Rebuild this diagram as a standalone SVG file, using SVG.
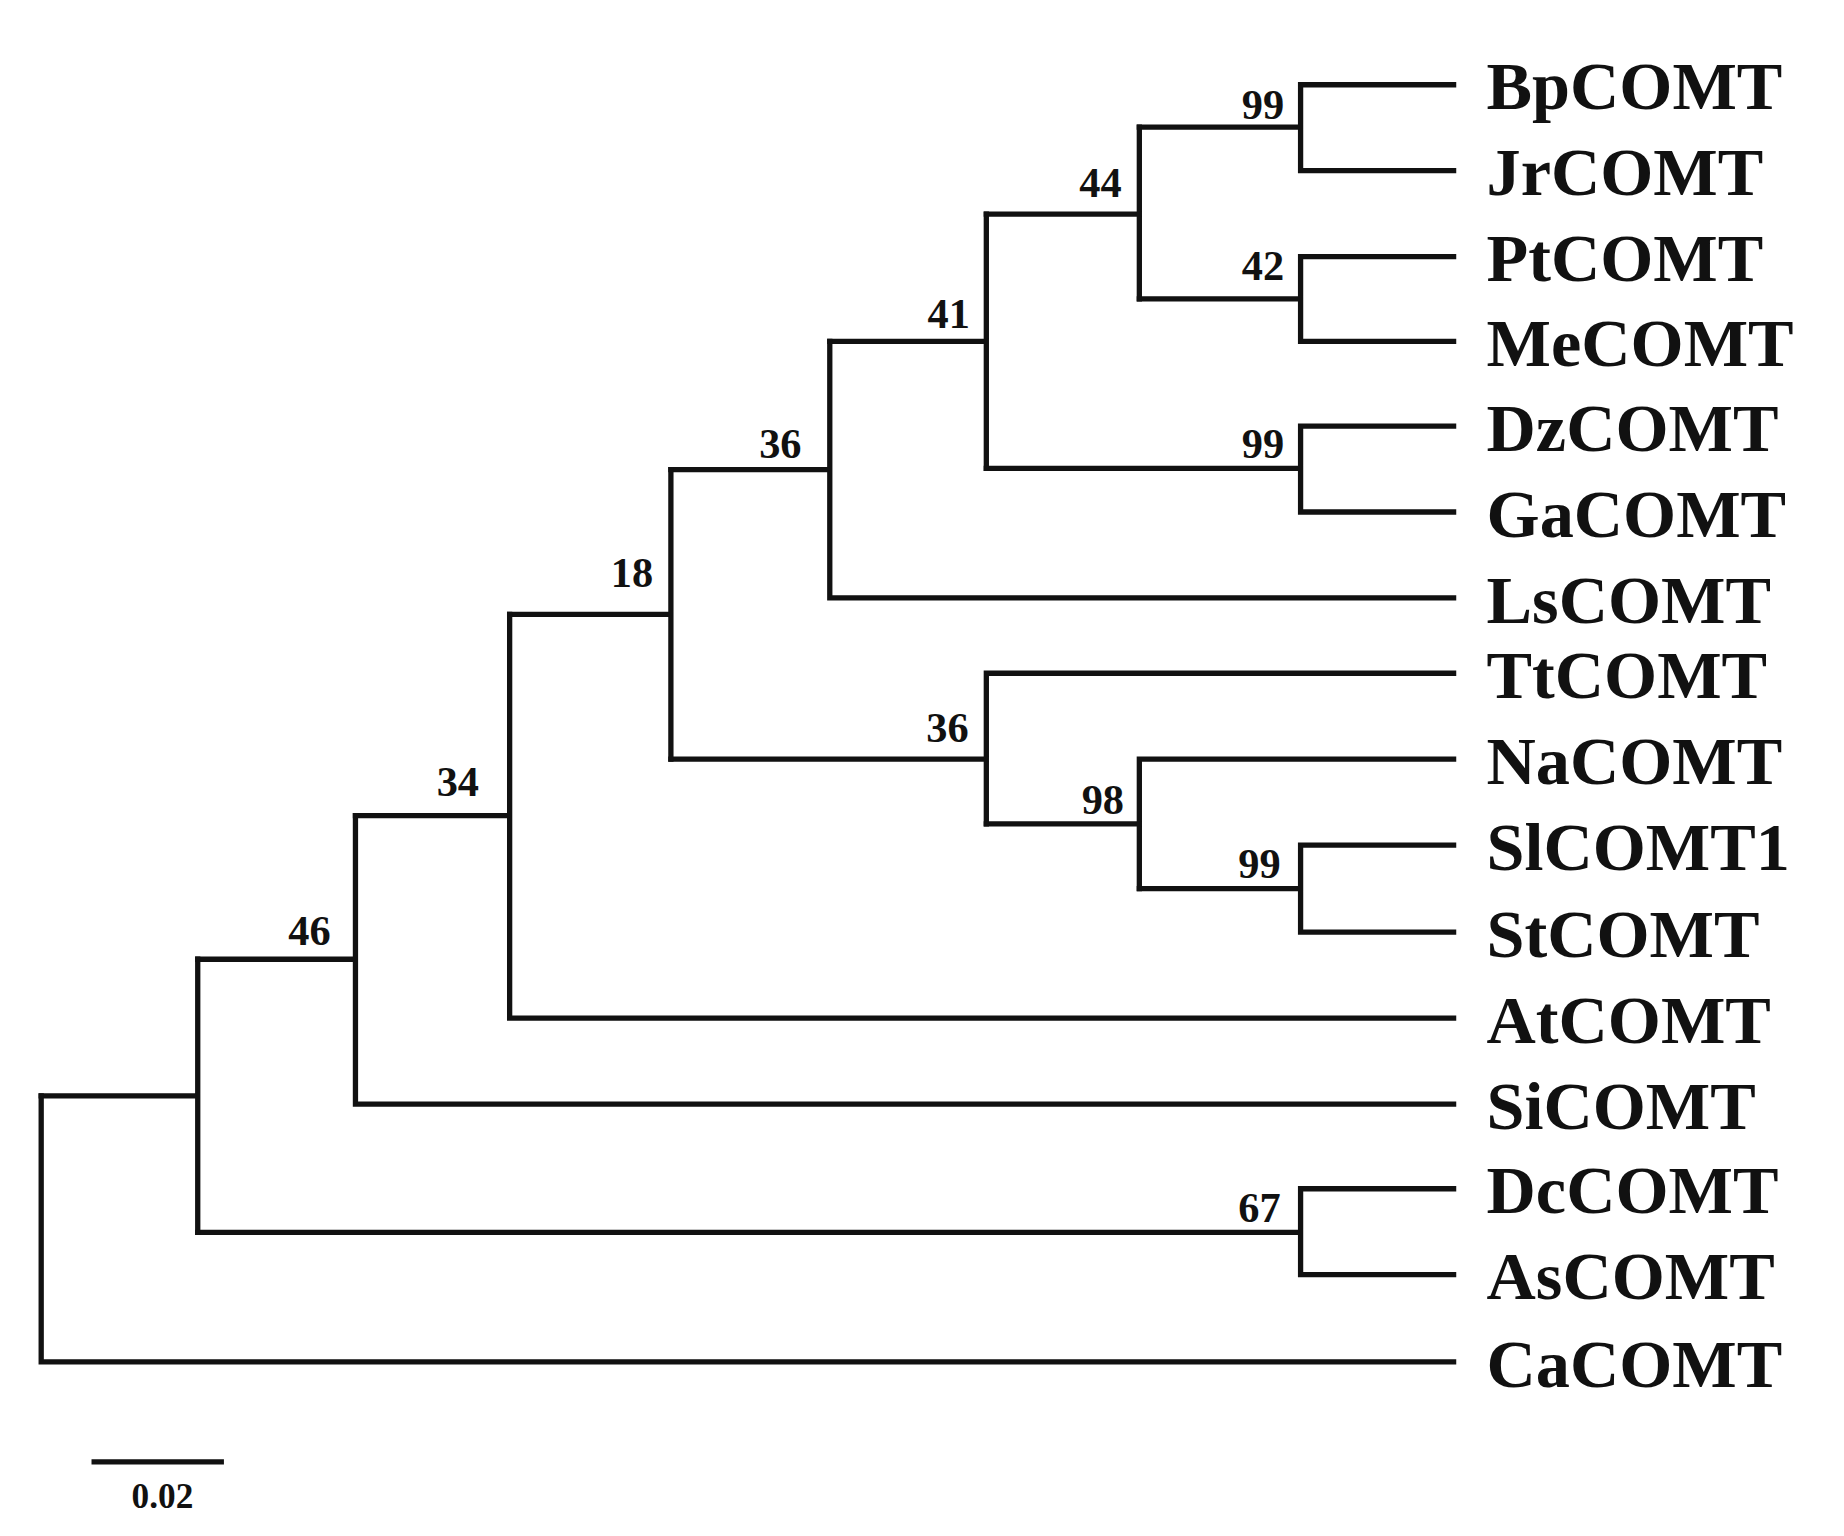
<svg xmlns="http://www.w3.org/2000/svg" width="1844" height="1536" viewBox="0 0 1844 1536">
<style>
.br{fill:none;stroke:#111;stroke-width:4.5;stroke-linecap:square}
.lf{font-family:"Liberation Serif",serif;font-weight:bold;font-size:58px;fill:#111}
.bs{font-family:"Liberation Serif",serif;font-weight:bold;font-size:36px;fill:#111;text-anchor:middle}
</style>
<rect width="1844" height="1536" fill="#fff"/>
<g transform="scale(1.177)">
<g id="connectors">
<path class="br" d="M1235,72H1105V145H1235M1105,108H968"/>
<path class="br" d="M1235,218H1105V290H1235M1105,254H968"/>
<path class="br" d="M968,108V254M968,182H838"/>
<path class="br" d="M1235,362H1105V435H1235M1105,398H838"/>
<path class="br" d="M838,182V398M838,290H705"/>
<path class="br" d="M705,290V508H1235M705,399H570"/>
<path class="br" d="M1235,718H1105V792H1235M1105,755H968"/>
<path class="br" d="M1235,645H968V755M968,700H838"/>
<path class="br" d="M1235,572H838V700M838,645H570"/>
<path class="br" d="M570,399V645M570,522H433"/>
<path class="br" d="M433,522V865H1235M433,693H302"/>
<path class="br" d="M302,693V938H1235M302,815H168"/>
<path class="br" d="M1235,1010H1105V1083H1235M1105,1047H168"/>
<path class="br" d="M168,815V1047M168,931H35"/>
<path class="br" d="M35,931V1157H1235"/>
<path class="br" d="M80,1242H188"/>
</g>
<g id="leaves">
<text class="lf" x="1263" y="93">BpCOMT</text>
<text class="lf" x="1263" y="166">JrCOMT</text>
<text class="lf" x="1263" y="239">PtCOMT</text>
<text class="lf" x="1263" y="311">MeCOMT</text>
<text class="lf" x="1263" y="383">DzCOMT</text>
<text class="lf" x="1263" y="456">GaCOMT</text>
<text class="lf" x="1263" y="529">LsCOMT</text>
<text class="lf" x="1263" y="593">TtCOMT</text>
<text class="lf" x="1263" y="666">NaCOMT</text>
<text class="lf" x="1263" y="739">SlCOMT1</text>
<text class="lf" x="1263" y="813">StCOMT</text>
<text class="lf" x="1263" y="886">AtCOMT</text>
<text class="lf" x="1263" y="959">SiCOMT</text>
<text class="lf" x="1263" y="1031">DcCOMT</text>
<text class="lf" x="1263" y="1104">AsCOMT</text>
<text class="lf" x="1263" y="1178">CaCOMT</text>
</g>
<g id="bootstrap">
<text class="bs" x="1073" y="101">99</text>
<text class="bs" x="935" y="167">44</text>
<text class="bs" x="1073" y="238">42</text>
<text class="bs" x="806" y="279">41</text>
<text class="bs" x="1073" y="389">99</text>
<text class="bs" x="663" y="389">36</text>
<text class="bs" x="537" y="499">18</text>
<text class="bs" x="805" y="630">36</text>
<text class="bs" x="937" y="692">98</text>
<text class="bs" x="1070" y="746">99</text>
<text class="bs" x="389" y="676">34</text>
<text class="bs" x="263" y="803">46</text>
<text class="bs" x="1070" y="1038">67</text>
<text class="bs" x="138" y="1281" style="font-size:30px">0.02</text>
</g>
</g>
</svg>
